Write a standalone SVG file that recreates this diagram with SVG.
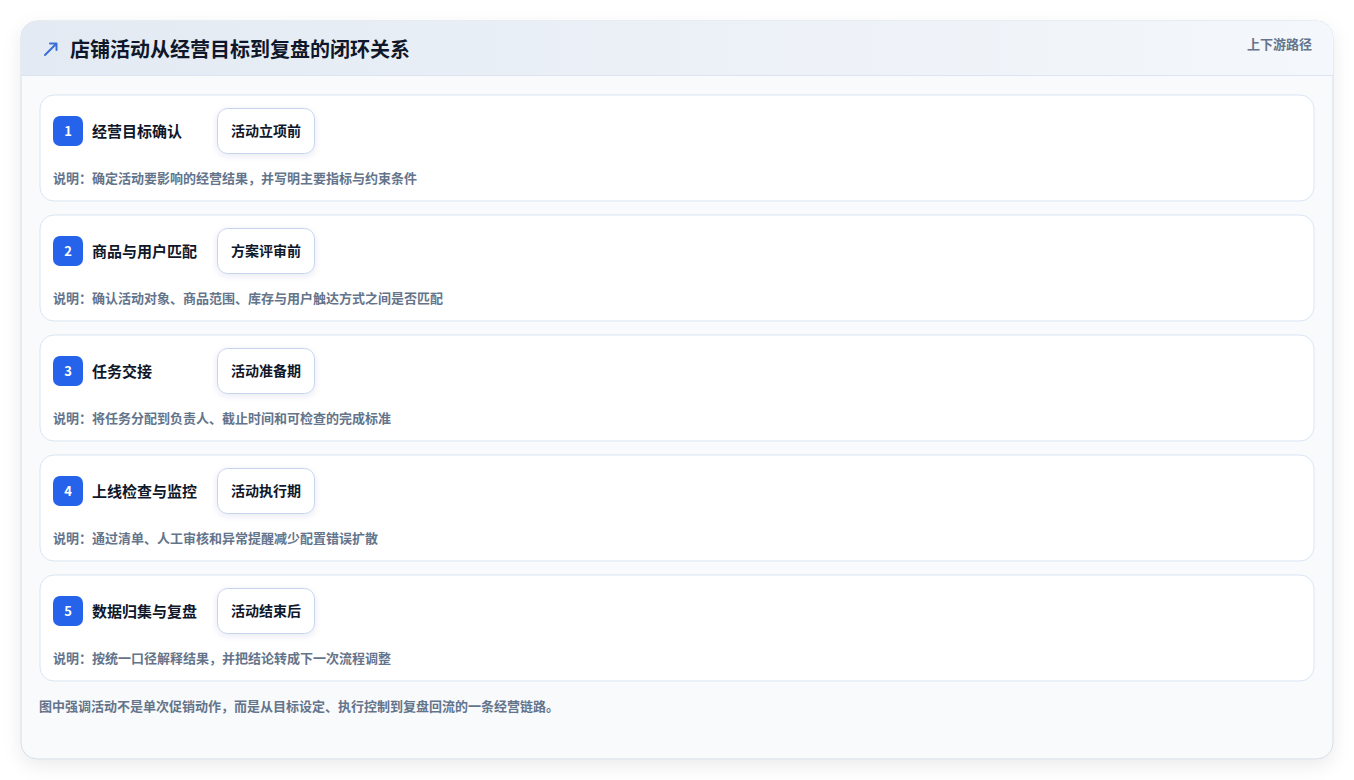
<svg xmlns="http://www.w3.org/2000/svg" width="1354" height="780" viewBox="0 0 1354 780">
<defs>
<linearGradient id="hdr" x1="0" y1="0" x2="1" y2="0">
<stop offset="0" stop-color="#e3eaf3"/>
<stop offset="1" stop-color="#f4f7fb"/>
</linearGradient>
<filter id="shadow" x="-10%" y="-10%" width="120%" height="125%">
<feDropShadow dx="0" dy="6" stdDeviation="9" flood-color="#0f172a" flood-opacity="0.08"/>
</filter>
<filter id="tagsh" x="-20%" y="-20%" width="140%" height="160%">
<feDropShadow dx="0" dy="2" stdDeviation="3" flood-color="#1e3a8a" flood-opacity="0.10"/>
</filter>
<clipPath id="cardclip"><rect x="21" y="21" width="1312" height="738" rx="16"/></clipPath>
</defs>
<style>
text{font-family:"Noto Sans CJK SC","Noto Sans",sans-serif}
.row{fill:#ffffff;stroke:#dbe5f2;stroke-width:1}
.badge{fill:#2563eb}
.num{fill:#ffffff;font-size:13px;font-weight:700;text-anchor:middle}
.ttl{fill:#0f172a;font-size:15px;font-weight:700}
.tag{fill:#ffffff;stroke:#c6d5eb;stroke-width:1}
.tagt{fill:#0f172a;font-size:14px;font-weight:700;text-anchor:middle}
.desc{fill:#64748b;font-size:13px;font-weight:600}
</style>
<rect width="1354" height="780" fill="#ffffff"/>
<rect x="21" y="21" width="1312" height="738" rx="16" fill="#f8fafc" stroke="#d5dce6" stroke-width="1" filter="url(#shadow)"/>
<g clip-path="url(#cardclip)">
<rect x="21" y="21" width="1312" height="54" fill="url(#hdr)"/>
<line x1="21" y1="75.5" x2="1333" y2="75.5" stroke="#dbe4f0" stroke-width="1"/>
</g>
<g id="header">
<path d="M45 55 L56 44 M50 43.5 L56.5 43.5 L56.5 50" fill="none" stroke="#3b6fd8" stroke-width="2" stroke-linecap="round" stroke-linejoin="round"/>
<text x="70" y="57" font-size="20" font-weight="700" fill="#0f172a">店铺活动从经营目标到复盘的闭环关系</text>
<text x="1312" y="49" font-size="13" font-weight="700" fill="#64748b" text-anchor="end">上下游路径</text>
</g>
<g id="node1">
<rect class="row" x="40" y="95" width="1274" height="106" rx="14"/>
<rect class="badge" x="53" y="116" width="30" height="30" rx="7"/>
<text class="num" x="68" y="135.5">1</text>
<text class="ttl" x="92" y="136.5">经营目标确认</text>
<rect class="tag" x="217.5" y="108.5" width="97" height="45" rx="10" filter="url(#tagsh)"/>
<text class="tagt" x="266" y="135.5">活动立项前</text>
<text class="desc" x="53" y="182.5">说明：确定活动要影响的经营结果，并写明主要指标与约束条件</text>
</g>
<g id="node2">
<rect class="row" x="40" y="215" width="1274" height="106" rx="14"/>
<rect class="badge" x="53" y="236" width="30" height="30" rx="7"/>
<text class="num" x="68" y="255.5">2</text>
<text class="ttl" x="92" y="256.5">商品与用户匹配</text>
<rect class="tag" x="217.5" y="228.5" width="97" height="45" rx="10" filter="url(#tagsh)"/>
<text class="tagt" x="266" y="255.5">方案评审前</text>
<text class="desc" x="53" y="302.5">说明：确认活动对象、商品范围、库存与用户触达方式之间是否匹配</text>
</g>
<g id="node3">
<rect class="row" x="40" y="335" width="1274" height="106" rx="14"/>
<rect class="badge" x="53" y="356" width="30" height="30" rx="7"/>
<text class="num" x="68" y="375.5">3</text>
<text class="ttl" x="92" y="376.5">任务交接</text>
<rect class="tag" x="217.5" y="348.5" width="97" height="45" rx="10" filter="url(#tagsh)"/>
<text class="tagt" x="266" y="375.5">活动准备期</text>
<text class="desc" x="53" y="422.5">说明：将任务分配到负责人、截止时间和可检查的完成标准</text>
</g>
<g id="node4">
<rect class="row" x="40" y="455" width="1274" height="106" rx="14"/>
<rect class="badge" x="53" y="476" width="30" height="30" rx="7"/>
<text class="num" x="68" y="495.5">4</text>
<text class="ttl" x="92" y="496.5">上线检查与监控</text>
<rect class="tag" x="217.5" y="468.5" width="97" height="45" rx="10" filter="url(#tagsh)"/>
<text class="tagt" x="266" y="495.5">活动执行期</text>
<text class="desc" x="53" y="542.5">说明：通过清单、人工审核和异常提醒减少配置错误扩散</text>
</g>
<g id="node5">
<rect class="row" x="40" y="575" width="1274" height="106" rx="14"/>
<rect class="badge" x="53" y="596" width="30" height="30" rx="7"/>
<text class="num" x="68" y="615.5">5</text>
<text class="ttl" x="92" y="616.5">数据归集与复盘</text>
<rect class="tag" x="217.5" y="588.5" width="97" height="45" rx="10" filter="url(#tagsh)"/>
<text class="tagt" x="266" y="615.5">活动结束后</text>
<text class="desc" x="53" y="662.5">说明：按统一口径解释结果，并把结论转成下一次流程调整</text>
</g>
<g id="connectors"></g>
<text x="39" y="710.5" font-size="13" font-weight="600" fill="#64748b">图中强调活动不是单次促销动作，而是从目标设定、执行控制到复盘回流的一条经营链路。</text>
</svg>
